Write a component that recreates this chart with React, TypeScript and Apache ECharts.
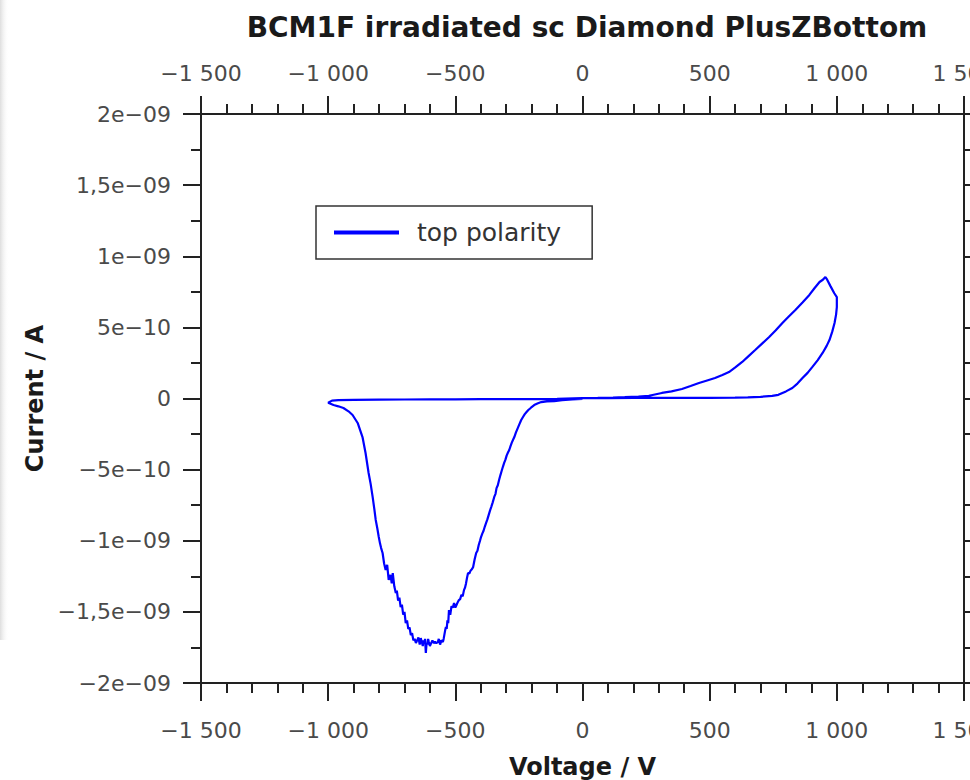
import React, { useEffect, useRef } from "react";
import * as echarts from "echarts";

// ---- data (voltage in V, current in nA) ----
// positive sweep out (0 -> +1000 V), lower branch
const posOutV = [0, 100, 200, 300, 400, 500, 600, 650, 700, 746, 770, 786, 800, 825, 845, 865, 885, 904, 925, 944, 960, 971, 982, 991, 997, 1000, 1000];
const posOutI = [0.002, 0.003, 0.004, 0.004, 0.005, 0.005, 0.006, 0.008, 0.012, 0.018, 0.026, 0.039, 0.05, 0.074, 0.105, 0.144, 0.18, 0.222, 0.27, 0.32, 0.37, 0.411, 0.47, 0.531, 0.59, 0.643, 0.713];
// positive sweep back (+1000 -> 0 V), upper branch
const posBackV = [990, 975, 962, 955, 945, 932, 912, 892, 865, 837, 812, 786, 760, 734, 706, 679, 654, 628, 602, 576, 550, 521, 490, 458, 425, 391, 350, 312, 280, 261, 220, 166, 120, 60, 0];
const posBackI = [0.74, 0.79, 0.835, 0.854, 0.835, 0.819, 0.775, 0.728, 0.675, 0.622, 0.578, 0.531, 0.48, 0.432, 0.386, 0.341, 0.3, 0.257, 0.22, 0.186, 0.165, 0.144, 0.127, 0.109, 0.088, 0.067, 0.05, 0.039, 0.026, 0.018, 0.014, 0.01, 0.007, 0.004, 0.002];
// negative sweep out (0 -> -1000 V)
const negOutV = [-100, -200, -300, -400, -500, -600, -700, -800, -900, -960, -985, -1000];
const negOutI = [-0.003, -0.004, -0.005, -0.005, -0.006, -0.006, -0.007, -0.008, -0.01, -0.012, -0.015, -0.03];
// negative sweep back (-1000 -> 0 V), the dip
const negBackV = [-979, -960, -940, -920, -904, -884, -865, -853, -841, -833, -825, -819, -813, -807, -801, -796, -792, -786, -780, -774, -768, -762, -755, -750, -746, -740, -734, -730, -725, -720, -715, -710, -705, -700, -695, -690, -685, -680, -675, -670, -665, -660, -655, -650, -645, -640, -636, -632, -628, -625, -622, -619, -616, -613, -610, -607, -604, -600, -595, -590, -585, -580, -575, -569, -565, -560, -555, -549, -546, -543, -540, -537, -534, -531, -528, -525, -520, -515, -510, -505, -500, -495, -490, -486, -481, -476, -471, -466, -462, -458, -454, -450, -445, -440, -435, -430, -424, -418, -413, -408, -403, -399, -394, -389, -384, -379, -374, -369, -364, -359, -353, -347, -342, -338, -333, -328, -323, -318, -313, -308, -303, -298, -293, -288, -283, -278, -273, -268, -262, -255, -248, -241, -234, -227, -220, -213, -206, -200, -190, -175, -162, -140, -111, -80, -40, 0];
const negBackI = [-0.046, -0.055, -0.067, -0.09, -0.116, -0.172, -0.271, -0.383, -0.524, -0.6, -0.693, -0.77, -0.854, -0.91, -0.974, -1.02, -1.05, -1.086, -1.16, -1.206, -1.17, -1.276, -1.24, -1.3, -1.227, -1.32, -1.368, -1.35, -1.42, -1.4, -1.466, -1.45, -1.52, -1.5, -1.579, -1.56, -1.62, -1.61, -1.663, -1.65, -1.7, -1.69, -1.719, -1.7, -1.68, -1.73, -1.684, -1.71, -1.74, -1.7, -1.72, -1.69, -1.789, -1.72, -1.73, -1.69, -1.712, -1.74, -1.72, -1.7, -1.72, -1.71, -1.72, -1.712, -1.69, -1.73, -1.7, -1.712, -1.69, -1.66, -1.63, -1.607, -1.62, -1.56, -1.58, -1.487, -1.52, -1.46, -1.47, -1.438, -1.47, -1.45, -1.43, -1.417, -1.41, -1.38, -1.39, -1.347, -1.33, -1.3, -1.26, -1.227, -1.23, -1.21, -1.2, -1.185, -1.13, -1.086, -1.07, -1.03, -1.0, -0.974, -0.95, -0.93, -0.9, -0.875, -0.85, -0.82, -0.79, -0.763, -0.73, -0.692, -0.67, -0.63, -0.61, -0.573, -0.54, -0.51, -0.48, -0.453, -0.43, -0.4, -0.38, -0.362, -0.335, -0.31, -0.29, -0.271, -0.24, -0.21, -0.18, -0.151, -0.13, -0.11, -0.095, -0.081, -0.07, -0.06, -0.046, -0.033, -0.025, -0.02, -0.018, -0.012, -0.006, -0.003];

const xTickValues = [-1500, -1000, -500, 0, 500, 1000, 1500];
const xTickLabels = ["\u22121 500", "\u22121 000", "\u2212500", "0", "500", "1 000", "1 500"];
const yTickValues = [-2, -1.5, -1, -0.5, 0, 0.5, 1, 1.5, 2];
const yTickLabels = ["\u22122e\u221209", "\u22121,5e\u221209", "\u22121e\u221209", "\u22125e\u221210", "0", "5e\u221210", "1e\u221209", "1,5e\u221209", "2e\u221209"];

const titleText = "BCM1F irradiated sc Diamond PlusZBottom";
const seriesName = "top polarity";
const xName = "Voltage / V";
const yName = "Current / A";

const zip = (v: number[], i: number[]) => v.slice(0, Math.min(v.length, i.length)).map((x, k) => [x, i[k]]);

const FONT = "DejaVu Sans";
const LABEL_COLOR = "#4a4a4a";

export default function App() {
  const ref = useRef<HTMLDivElement>(null);
  useEffect(() => {
    if (!ref.current) return;
    const chart = echarts.init(ref.current, undefined, { renderer: "svg" });
    const data = [
      ...zip(posOutV, posOutI),
      ...zip(posBackV, posBackI),
      ...zip(negOutV, negOutI),
      ...zip(negBackV, negBackI),
    ];
    const xFmt = (v: number) => {
      const k = xTickValues.findIndex((t) => Math.abs(t - v) < 1e-6);
      return k >= 0 ? xTickLabels[k] : "";
    };
    const yFmt = (v: number) => {
      const k = yTickValues.findIndex((t) => Math.abs(t - v) < 1e-6);
      return k >= 0 ? yTickLabels[k] : "";
    };
    const axisLine = { show: true, onZero: false, lineStyle: { color: "#222", width: 2 } };
    const xBase = {
      type: "value" as const,
      min: -1500,
      max: 1500,
      interval: 500,
      axisLine,
      axisTick: { show: true, inside: false, length: 18, lineStyle: { color: "#222", width: 2 } },
      minorTick: { show: true, splitNumber: 5, length: 10, lineStyle: { color: "#222", width: 2 } },
      splitLine: { show: false },
    };
    const yBase = {
      type: "value" as const,
      min: -2,
      max: 2,
      interval: 0.5,
      axisLine,
      axisTick: { show: true, inside: false, length: 18, lineStyle: { color: "#222", width: 2 } },
      minorTick: { show: true, splitNumber: 2, length: 10, lineStyle: { color: "#222", width: 2 } },
      splitLine: { show: false },
    };
    chart.setOption({
      animation: false,
      backgroundColor: "#ffffff",
      textStyle: { fontFamily: FONT },
      title: {
        text: titleText,
        left: 582,
        top: 8,
        textAlign: "center",
        textStyle: { fontFamily: FONT, fontWeight: "bold", fontSize: 28, color: "#1a1a1a" },
      },
      grid: { left: 201, right: 6, top: 114, bottom: 97, containLabel: false, outerBoundsMode: "none" },
      legend: {
        show: true,
        left: 316,
        top: 206,
        orient: "horizontal",
        backgroundColor: "#fff",
        borderColor: "#333",
        borderWidth: 1.5,
        borderRadius: 0,
        padding: [14, 31, 14, 18],
        itemWidth: 65,
        itemHeight: 26,
        icon: "path://M0,0L100,0L100,6L0,6Z",
        itemStyle: { color: "#0000ff" },
        textStyle: { fontFamily: FONT, fontSize: 25, color: "#333", padding: [0, 0, 0, 13] },
        data: [{ name: seriesName }],
      },
      xAxis: [
        {
          ...xBase,
          position: "bottom",
          name: xName,
          nameLocation: "middle",
          nameGap: 72,
          nameTextStyle: { fontFamily: FONT, fontWeight: "bold", fontSize: 24, color: "#1a1a1a" },
          axisLabel: { show: true, margin: 36, fontFamily: FONT, fontSize: 22, color: LABEL_COLOR, formatter: xFmt, showMinLabel: true, showMaxLabel: true },
        },
        {
          ...xBase,
          position: "top",
          axisLabel: { show: true, margin: 30, fontFamily: FONT, fontSize: 22, color: LABEL_COLOR, formatter: xFmt, showMinLabel: true, showMaxLabel: true },
        },
      ],
      yAxis: [
        {
          ...yBase,
          position: "left",
          name: yName,
          nameLocation: "middle",
          nameGap: 150,
          nameTextStyle: { fontFamily: FONT, fontWeight: "bold", fontSize: 24, color: "#1a1a1a" },
          axisLabel: { show: true, margin: 30, fontFamily: FONT, fontSize: 22, color: LABEL_COLOR, formatter: yFmt, showMinLabel: true, showMaxLabel: true },
        },
        {
          ...yBase,
          position: "right",
          axisLabel: { show: false },
        },
      ],
      graphic: [
        {
          type: "rect",
          left: 0,
          top: 0,
          z: -10,
          shape: { width: 9, height: 640 },
          style: {
            fill: new echarts.graphic.LinearGradient(0, 0, 1, 0, [
              { offset: 0, color: "rgba(195,195,195,0.55)" },
              { offset: 1, color: "rgba(255,255,255,0)" },
            ]),
          },
          silent: true,
        },
      ],
      series: [
        {
          name: seriesName,
          type: "line",
          xAxisIndex: 0,
          yAxisIndex: 0,
          data,
          symbol: "none",
          showSymbol: false,
          lineStyle: { color: "#0000ff", width: 2.2 },
          itemStyle: { color: "#0000ff" },
          clip: true,
        },
      ],
    });
    return () => chart.dispose();
  }, []);
  return (
    <div
      ref={ref}
      style={{ position: "fixed", left: 0, top: 0, width: 970, height: 780, background: "#fff" }}
    />
  );
}
